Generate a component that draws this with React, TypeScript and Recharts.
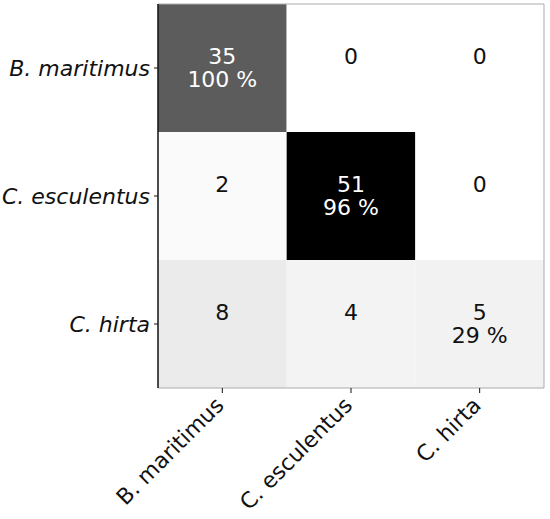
import React from "react";
import {
  BarChart,
  Bar,
  Cell,
  XAxis,
  YAxis,
  LabelList,
  ReferenceLine,
} from "recharts";

const classes = ["B. maritimus", "C. esculentus", "C. hirta"];
const counts = [
  [35, 0, 0],
  [2, 51, 0],
  [8, 4, 5],
];
const diagPct = ["100 %", "96 %", "29 %"];
const cellColors = [
  ["#5c5c5c", "#ffffff", "#ffffff"],
  ["#fafafa", "#000000", "#ffffff"],
  ["#ebebeb", "#f3f3f3", "#f2f2f2"],
];
const xTicks = [0.5, 1.5, 2.5];

const FONT = "DejaVu Sans, Verdana, sans-serif";
const SPINE = "#ababab";

const data = classes.map((c) => ({ row: c, c0: 1, c1: 1, c2: 1 }));

function cellLabel(col: number) {
  return (props: any) => {
    const vb = props.viewBox || {};
    const x = props.x ?? vb.x;
    const y = props.y ?? vb.y;
    const w = props.width ?? vb.width;
    const h = props.height ?? vb.height;
    const row = props.index;
    const cx = x + w / 2;
    const cy = y + h / 2;
    const dark = cellColors[row][col] === "#000000" || cellColors[row][col] === "#5c5c5c";
    const fill = dark ? "#ffffff" : "#111111";
    return (
      <g>
        <text x={cx} y={cy - 12} textAnchor="middle" dominantBaseline="central" fontSize={22} fontFamily={FONT} fill={fill}>
          {counts[row][col]}
        </text>
        {row === col && (
          <text x={cx} y={cy + 11} textAnchor="middle" dominantBaseline="central" fontSize={22} fontFamily={FONT} fill={fill}>
            {diagPct[row]}
          </text>
        )}
      </g>
    );
  };
}

function YTick(props: any) {
  const { x, y, payload } = props;
  return (
    <text x={x} y={y} dy="0.35em" textAnchor="end" fontSize={22} fontStyle="italic" fontFamily={FONT} fill="#111">
      {payload.value}
    </text>
  );
}

function XTick(props: any) {
  const { x, y, payload } = props;
  const label = classes[Math.floor(payload.value)];
  return (
    <g transform={`translate(${x - 2},${y + 7})`}>
      <text transform="rotate(-45)" textAnchor="end" dy="0.3em" fontSize={22} fontFamily={FONT} fill="#111">
        {label}
      </text>
    </g>
  );
}

export default function App() {
  return (
    <div style={{ position: "absolute", left: 0, top: 0, width: 550, height: 519, background: "#fff" }}>
      <BarChart
        width={550}
        height={519}
        data={data}
        layout="vertical"
        barCategoryGap={0}
        margin={{ top: 4, right: 6, left: 0, bottom: 0 }}
      >
        <XAxis
          type="number"
          domain={[0, 3]}
          ticks={xTicks}
          height={131}
          axisLine={{ stroke: SPINE }}
          tickLine={{ stroke: "#111" }}
          tickSize={5}
          tick={<XTick />}
          allowDataOverflow
        />
        <YAxis
          type="category"
          dataKey="row"
          width={158}
          axisLine={{ stroke: "#111", strokeWidth: 1.5 }}
          tickLine={{ stroke: "#111" }}
          tickSize={4}
          tickMargin={4}
          tick={<YTick />}
        />
        {[0, 1, 2].map((j) => (
          <Bar key={j} dataKey={`c${j}`} stackId="m" isAnimationActive={false}>
            {classes.map((_, i) => (
              <Cell key={i} fill={cellColors[i][j]} />
            ))}
            <LabelList dataKey={`c${j}`} content={cellLabel(j)} />
          </Bar>
        ))}
        <ReferenceLine x={3} stroke={SPINE} />
        <ReferenceLine y={classes[0]} position="start" stroke={SPINE} />
      </BarChart>
    </div>
  );
}
